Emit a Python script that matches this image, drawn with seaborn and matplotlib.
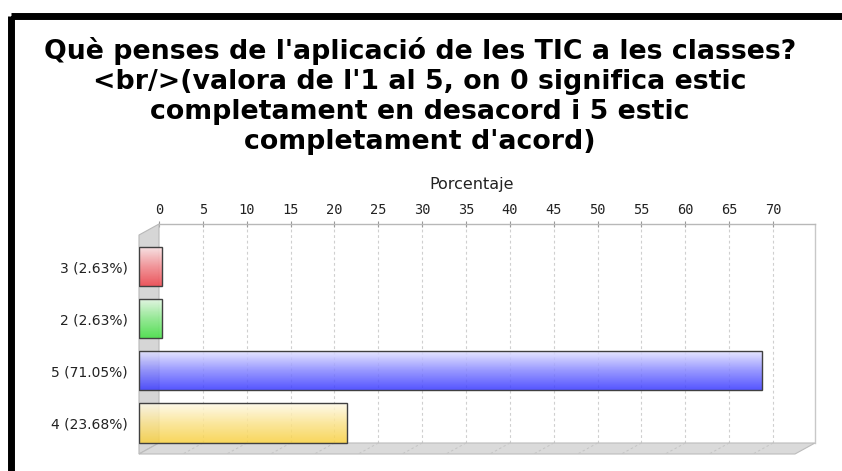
import numpy as np
import matplotlib
matplotlib.use("Agg")
import matplotlib.pyplot as plt
import seaborn as sns
from matplotlib.colors import LinearSegmentedColormap, to_rgb
from matplotlib.patches import Polygon, Rectangle
from matplotlib.lines import Line2D

sns.set_theme(style="white")
plt.rcParams['font.family'] = ['DejaVu Sans']

# ---- data ----
categories = ["3 (2.63%)", "2 (2.63%)", "5 (71.05%)", "4 (23.68%)"]
values = [2.63, 2.63, 71.05, 23.68]
bar_colors = ["#f04048", "#40e040", "#3838ff", "#f8d040"]
xticks = list(range(0, 75, 5))
title = ("Què penses de l'aplicació de les TIC a les classes?\n"
         "<br/>(valora de l'1 al 5, on 0 significa estic\n"
         "completament en desacord i 5 estic\n"
         "completament d'acord)")
xlabel = "Porcentaje"

W, H = 842, 471
fig = plt.figure(figsize=(W / 100, H / 100), dpi=100)
fig.patch.set_facecolor("white")

def fx(px):
    return px / W

def fy(py):
    return 1 - py / H

# layout (pixels)
back_l, back_r, back_t, back_b = 159, 815, 224, 443
dx, dy = -20, 11
front_l, front_r, front_t, front_b = back_l + dx, back_r + dx, back_t + dy, back_b + dy
xmax = 74.79
ylim = (3.594, -0.604)

# back wall axes
back = fig.add_axes([fx(back_l), fy(back_b), fx(back_r) - fx(back_l), fy(back_t) - fy(back_b)])
back.set_zorder(0)
back.set_xlim(0, xmax)
back.set_ylim(*ylim)
back.set_facecolor("white")
for s in ["left", "bottom"]:
    back.spines[s].set_visible(False)
back.spines["top"].set_color("#b8b8b8")
back.spines["right"].set_color("#c8c8c8")
back.spines["top"].set_linewidth(1.0)
back.spines["right"].set_linewidth(1.0)
back.xaxis.tick_top()
back.set_xticks(xticks)
back.set_xticklabels([str(t) for t in xticks], family="DejaVu Sans Mono", fontsize=9.8, color="#222222")
back.tick_params(axis="x", direction="inout", length=4, width=0.8, color="#999999", pad=3)
back.set_yticks([])
for t in xticks[1:]:
    back.axvline(t, color="#cfcfcf", lw=0.8, ls=(0, (2.5, 2.5)), zorder=0)

# left wall & floor (3D decoration)
wall = Polygon([(fx(front_l), fy(front_t)), (fx(back_l), fy(back_t)),
                (fx(back_l), fy(back_b)), (fx(front_l), fy(front_b))],
               closed=True, transform=fig.transFigure, facecolor="#d6d6d6",
               edgecolor="#b8b8b8", lw=0.8, zorder=0.5)
floor = Polygon([(fx(back_l), fy(back_b)), (fx(back_r), fy(back_b)),
                 (fx(front_r), fy(front_b)), (fx(front_l), fy(front_b))],
                closed=True, transform=fig.transFigure, facecolor="#dadada",
                edgecolor="#bcbcbc", lw=0.8, zorder=0.5)
fig.patches.extend([wall, floor])
px_per_unit = (back_r - back_l) / xmax
for t in xticks[1:]:
    xb = back_l + t * px_per_unit
    fig.lines.append(Line2D([fx(xb), fx(xb + dx)], [fy(back_b), fy(front_b)],
                            transform=fig.transFigure, color="#c4c4c4", lw=0.7,
                            ls=(0, (2.5, 2.5)), zorder=0.6))

# front axes with the bars
front = fig.add_axes([fx(front_l), fy(front_b), fx(front_r) - fx(front_l), fy(front_t) - fy(front_b)])
front.patch.set_alpha(0)
front.set_zorder(2)
sns.barplot(x=values, y=categories, hue=categories, palette=bar_colors, orient="h",
            width=0.75, edgecolor="#404040", linewidth=1.0, legend=False, ax=front)
front.set_xlim(0, xmax)
front.set_ylim(*ylim)
for s in front.spines.values():
    s.set_visible(False)
front.set_xticks([])
front.set_xlabel("")
front.set_ylabel("")
front.tick_params(axis="y", length=0, pad=8)
for lab in front.get_yticklabels():
    lab.set_fontsize(10)
    lab.set_color("#222222")

for patch, col in zip(front.patches, bar_colors):
    x0, y0 = patch.get_x(), patch.get_y()
    w, h = patch.get_width(), patch.get_height()
    c = np.array(to_rgb(col))
    light = 1 - (1 - c) * 0.12
    cmap = LinearSegmentedColormap.from_list("g", [light, 1 - (1 - c) * 0.6, c])
    grad = np.linspace(0, 1, 64).reshape(-1, 1)
    im = front.imshow(grad, cmap=cmap, extent=(x0, x0 + w, y0 + h, y0), origin="upper",
                      aspect="auto", alpha=0.85, zorder=patch.get_zorder() - 0.1,
                      interpolation="bilinear")
    im.set_clip_path(patch)
    patch.set_facecolor("none")
front.set_xlim(0, xmax)
front.set_ylim(*ylim)

# axis label
fig.text(fx(472), fy(184), xlabel, ha="center", va="center", fontsize=11.5, color="#222222")

# title
fig.text(fx(420), fy(37), title, ha="center", va="top", fontsize=19.3, fontweight="bold",
         color="black", linespacing=1.2)

# black frame
frame = Rectangle((fx(11), fy(15.5)), 2, -2, transform=fig.transFigure, fill=False,
                  edgecolor="black", lw=5.0, zorder=5)
fig.patches.append(frame)

fig.savefig("out.png", dpi=100)
